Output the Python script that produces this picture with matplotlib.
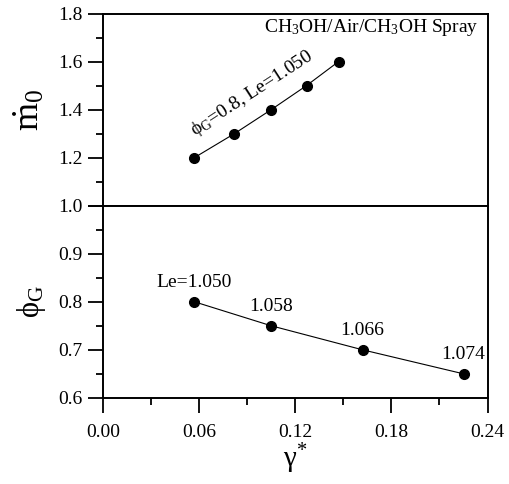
import matplotlib
matplotlib.use("Agg")
import matplotlib.pyplot as plt
from matplotlib.ticker import MultipleLocator

plt.rcParams['font.family'] = ['Liberation Serif', 'DejaVu Serif']
plt.rcParams['mathtext.fontset'] = 'custom'
plt.rcParams['mathtext.rm'] = 'Liberation Serif'
plt.rcParams['mathtext.it'] = 'Liberation Serif:italic'

# upper panel: mass burning rate vs gamma*
gamma_top = [0.057, 0.082, 0.105, 0.127, 0.147]
m0 = [1.2, 1.3, 1.4, 1.5, 1.6]

# lower panel: equivalence ratio vs gamma*
gamma_bot = [0.057, 0.105, 0.162, 0.225]
phi_g = [0.80, 0.75, 0.70, 0.65]
le_labels = ["Le=1.050", "1.058", "1.066", "1.074"]

fig = plt.figure(figsize=(5.10, 4.84), dpi=100)
ax_top = fig.add_axes([0.202, 0.575, 0.754, 0.397])
ax_bot = fig.add_axes([0.202, 0.178, 0.754, 0.397], sharex=ax_top)

for ax in (ax_top, ax_bot):
    for sp in ax.spines.values():
        sp.set_linewidth(1.4)
    ax.tick_params(axis='both', which='major', direction='out', length=10.5,
                   width=1.3, labelsize=14, pad=4)
    ax.tick_params(axis='both', which='minor', direction='out', length=5, width=1.3)

ax_top.plot(gamma_top, m0, color='black', lw=0.8, marker='o', ms=7)
ax_bot.plot(gamma_bot, phi_g, color='black', lw=0.8, marker='o', ms=7)

ax_top.set_xlim(0.0, 0.24)
ax_top.set_ylim(1.0, 1.8)
ax_top.yaxis.set_major_locator(MultipleLocator(0.2))
ax_top.yaxis.set_minor_locator(MultipleLocator(0.1))
ax_top.tick_params(axis='x', which='both', bottom=False, labelbottom=False)

ax_bot.set_ylim(0.6, 1.0)
ax_bot.yaxis.set_major_locator(MultipleLocator(0.1))
ax_bot.yaxis.set_minor_locator(MultipleLocator(0.05))
ax_bot.xaxis.set_major_locator(MultipleLocator(0.06))
ax_bot.xaxis.set_minor_locator(MultipleLocator(0.03))
ax_bot.xaxis.set_major_formatter(plt.FuncFormatter(lambda v, p: f"{v:.2f}"))
ax_bot.tick_params(axis='x', pad=8)
# the 1.0 label belongs to the upper panel
ax_bot.yaxis.set_major_formatter(plt.FuncFormatter(lambda v, p: "" if v > 0.99 else f"{v:.1f}"))
ax_top.yaxis.set_major_formatter(plt.FuncFormatter(lambda v, p: f"{v:.1f}"))

ax_top.set_ylabel(r"$\dot{\mathrm{m}}_{0}$", fontsize=26, labelpad=8)
ax_bot.set_ylabel(r"$\mathrm{\phi}_{\mathrm{G}}$", fontsize=22, labelpad=8)
ax_bot.set_xlabel(r"$\mathrm{\gamma}^{*}$", fontsize=21, labelpad=1)

ax_top.text(0.975, 0.93, r"CH$_3$OH/Air/CH$_3$OH Spray", transform=ax_top.transAxes,
            ha='right', va='center', fontsize=14)
ax_top.text(0.059, 1.27, r"$\mathrm{\phi}_{\mathrm{G}}$=0.8, Le=1.050", fontsize=14,
            rotation=33, rotation_mode='anchor', ha='left', va='bottom')

for x, y, s in zip(gamma_bot, phi_g, le_labels):
    ax_bot.annotate(s, (x, y), xytext=(0, 8), textcoords='offset points',
                    ha='center', va='bottom', fontsize=14)

fig.savefig("out.png", dpi=100)
